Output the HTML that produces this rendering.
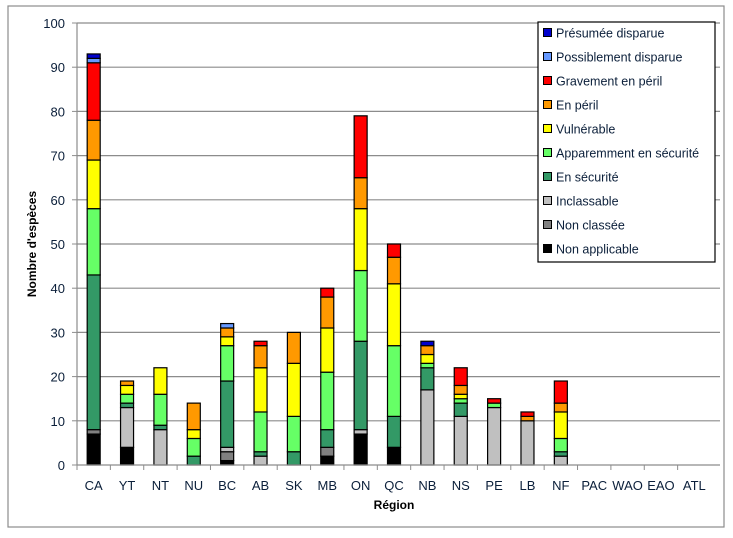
<!DOCTYPE html>
<html><head><meta charset="utf-8"><style>
body{margin:0;background:#fff}
svg{display:block;font-family:"Liberation Sans",sans-serif}
</style></head><body>
<svg id="chart" width="733" height="538" viewBox="0 0 733 538">
<rect x="8" y="6" width="716" height="521" fill="#fff" stroke="#8c8c8c" stroke-width="1.2"/>
<g id="grid"></g><g id="bars"></g><g id="axes"></g>
<text transform="translate(36,244) rotate(-90)" text-anchor="middle" font-size="12" font-weight="bold" fill="#000">Nombre d'espèces</text>
<text x="394" y="509" text-anchor="middle" font-size="12" font-weight="bold" fill="#000">Région</text>
<g id="legend"></g>
</svg>
<script>
const categories=["CA","YT","NT","NU","BC","AB","SK","MB","ON","QC","NB","NS","PE","LB","NF","PAC","WAO","EAO","ATL"];
const seriesNames=["Non applicable","Non classée","Inclassable","En sécurité","Apparemment en sécurité","Vulnérable","En péril","Gravement en péril","Possiblement disparue","Présumée disparue"];
const nonApplicable=[7,4,0,0,1,0,0,2,7,4,0,0,0,0,0,0,0,0,0];
const nonClassee=[1,0,0,0,2,0,0,2,0,0,0,0,0,0,0,0,0,0,0];
const inclassable=[0,9,8,0,1,2,0,0,1,0,17,11,13,10,2,0,0,0,0];
const enSecurite=[35,1,1,2,15,1,3,4,20,7,5,3,0,0,1,0,0,0,0];
const apparemment=[15,2,7,4,8,9,8,13,16,16,1,1,1,0,3,0,0,0,0];
const vulnerable=[11,2,6,2,2,10,12,10,14,14,2,1,0,0,6,0,0,0,0];
const enPeril=[9,1,0,6,2,5,7,7,7,6,2,2,0,1,2,0,0,0,0];
const gravement=[13,0,0,0,0,1,0,2,14,3,0,4,1,1,5,0,0,0,0];
const possiblement=[1,0,0,0,1,0,0,0,0,0,0,0,0,0,0,0,0,0,0];
const presumee=[1,0,0,0,0,0,0,0,0,0,1,0,0,0,0,0,0,0,0];
const yTicks=[0,10,20,30,40,50,60,70,80,90,100];
const series=[nonApplicable,nonClassee,inclassable,enSecurite,apparemment,vulnerable,enPeril,gravement,possiblement,presumee];
const colors=["#000000","#808080","#c0c0c0","#339966","#66ff66","#ffff00","#ff9900","#ff0000","#6699ff","#0000cc"];
const NS="http://www.w3.org/2000/svg";
const X0=77,X1=711,Y0=465,Y1=23,YMAX=100;
const band=(X1-X0)/categories.length;
const y=v=>Y0-(v/YMAX)*(Y0-Y1);
const xc=i=>X0+band*(i+0.5);
function mk(t,a,p){const e=document.createElementNS(NS,t);for(const k in a)e.setAttribute(k,a[k]);p.appendChild(e);return e;}
const grid=document.getElementById('grid'),axes=document.getElementById('axes'),bars=document.getElementById('bars'),leg=document.getElementById('legend');
yTicks.forEach(t=>{
 if(t>0){const g=mk('line',{x1:X0,x2:X1+9,y1:y(t),y2:y(t),stroke:'#8c8c8c','stroke-width':1.2},grid);
 
 }
 const tk=mk('line',{x1:X0-5,x2:X0,y1:y(t),y2:y(t),stroke:'#8c8c8c'},axes);
 
 
 const l=mk('text',{x:X0-12,y:y(t)+5,'text-anchor':'end','font-size':13,fill:'#0b1f3a'},axes);l.textContent=t;
 
 
});
const ya=mk('line',{x1:X0,x2:X0,y1:Y1,y2:Y0,stroke:'#8c8c8c','stroke-width':1.2},axes);


const xa=mk('line',{x1:X0,x2:X1+9,y1:Y0,y2:Y0,stroke:'#8c8c8c','stroke-width':1.2},axes);


categories.forEach((c,i)=>{
 const tx=X0+band*i;
 const tk=mk('line',{x1:tx,x2:tx,y1:Y0,y2:Y0+5,stroke:'#8c8c8c'},axes);
 
 
 const l=mk('text',{x:xc(i),y:Y0+25,'text-anchor':'middle','font-size':13,fill:'#0b1f3a'},axes);l.textContent=c;
 
 
 let cum=0;
 series.forEach((s,k)=>{
  const v=s[i];if(!v)return;
  const r=mk('rect',{x:xc(i)-6.5,y:y(cum+v),width:13,height:y(cum)-y(cum+v),fill:colors[k],stroke:'#000','stroke-width':1.2},bars);
  
  
  cum+=v;
 });
});
mk('rect',{x:538,y:22,width:177,height:240,fill:'#fff',stroke:'#000','stroke-width':1.2},leg);
for(let k=0;k<seriesNames.length;k++){
 const idx=seriesNames.length-1-k, yy=33+k*24;
 const g=mk('g',{},leg);
 
 
 mk('rect',{x:543.5,y:yy-4.5,width:8,height:8,fill:colors[idx],stroke:'#000'},g);
 const t=mk('text',{x:556,y:yy+4.5,'font-size':12.5,fill:'#0b1f3a'},g);t.textContent=seriesNames[idx];
}
</script>
</body></html>
